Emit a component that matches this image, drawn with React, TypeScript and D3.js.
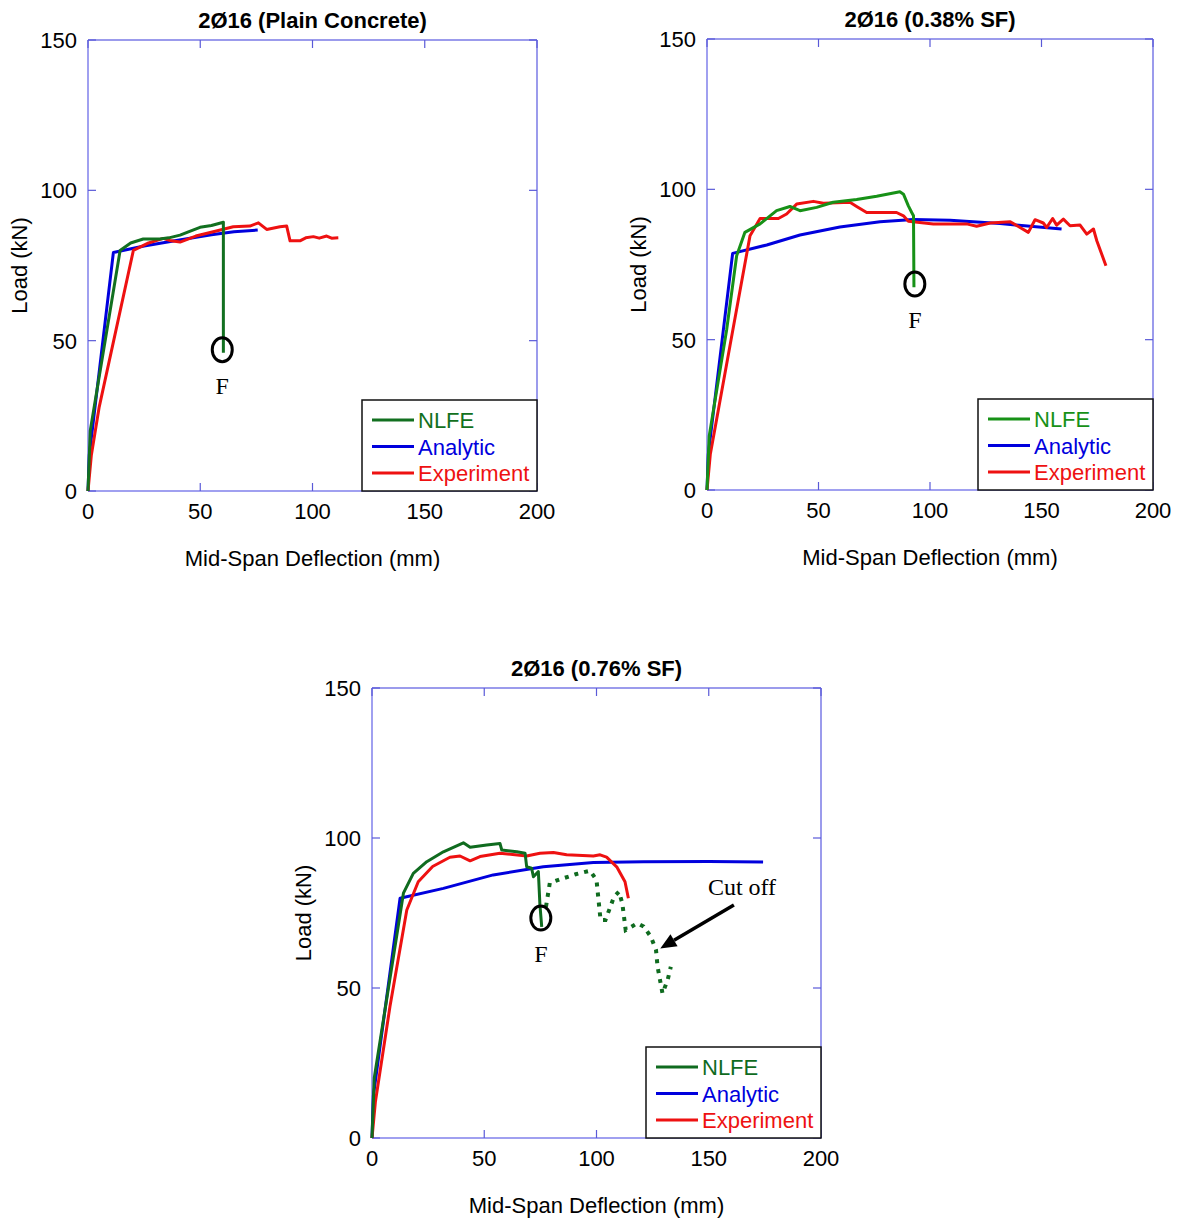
import React from "react";
import * as d3 from "d3";

type Pt = [number, number];

// axis ticks shared by all three panels
const xTicks = [0, 50, 100, 150, 200];
const yTicks = [0, 50, 100, 150];
const legendLabels = ["NLFE", "Analytic", "Experiment"];

// 2Ø16 (Plain Concrete)
const plainNLFE: Pt[] = [
  [0, 0], [1, 20], [14.3, 80], [19, 82.5], [24.6, 83.8], [32, 83.8], [36, 84.2],
  [41, 85.1], [45, 86.3], [49.9, 87.7], [55, 88.3], [60.3, 89.4], [60.3, 46]
];
const plainAnalytic: Pt[] = [
  [0, 0], [0.6, 12], [11.3, 79.3], [25, 81.5], [40, 83.4], [55, 85.2], [65, 86.2], [75.6, 86.8]
];
const plainExperiment: Pt[] = [
  [0, 0], [1.5, 12], [5, 28], [20.2, 80], [27, 82.5], [33.5, 84], [37, 83.2], [41, 82.8],
  [48, 84.8], [55.8, 86.2], [64.7, 87.9], [72.1, 88.1], [75.9, 89.2], [79.6, 87],
  [85.5, 87.9], [88.5, 88.1], [90, 83.2], [94.4, 83.2], [97, 84.2], [100.4, 84.6],
  [103, 84.1], [106.3, 84.8], [108.5, 84.1], [111.5, 84.2]
];

// 2Ø16 (0.38% SF)
const sf38NLFE: Pt[] = [
  [0, 0], [1, 18], [8.8, 53.2], [13.3, 77.9], [17, 85.7], [23.8, 88.5], [31.2, 92.9],
  [37.2, 94.3], [41.7, 92.9], [49.2, 94], [56.6, 95.7], [67.1, 96.6], [76.1, 97.7],
  [86.5, 99.2], [88.1, 98.4], [90.3, 94.5], [91.8, 92.3], [92.6, 91.2], [92.8, 67.4]
];
const sf38Analytic: Pt[] = [
  [0, 0], [0.6, 12], [11.5, 78.7], [26.8, 81.5], [41.7, 84.8], [59.6, 87.5], [77.6, 89.2],
  [92.5, 90], [109, 89.7], [131.4, 88.6], [159, 86.8]
];
const sf38Experiment: Pt[] = [
  [0, 0], [1.5, 12], [10.3, 48], [19.3, 84.6], [23.8, 90.3], [32, 90.3], [35.7, 91.8],
  [40.2, 95.1], [47.7, 96], [52.2, 95.4], [64.1, 95.7], [67.1, 94.3], [71.6, 92.3],
  [85, 92.3], [88.1, 91.2], [90.3, 89.4], [101.5, 88.5], [116.4, 88.5], [120.9, 87.7],
  [127, 88.8], [136, 89.2], [144.1, 85.7], [147.1, 89.9], [150.8, 88.8], [152.3, 87.3],
  [155, 90.3], [156.8, 88.1], [159.8, 90.1], [162.8, 87.9], [167.3, 88.1], [170.3, 85.1],
  [173.3, 86.8], [174.8, 82.9], [178.9, 74.6]
];

// 2Ø16 (0.76% SF)
const sf76NLFE: Pt[] = [
  [0, 0], [1, 20], [14, 81.6], [18.4, 88.2], [24.4, 92.1], [31.8, 95.4], [40.7, 98.4],
  [43.7, 96.9], [51.1, 97.7], [57, 98.2], [57.8, 96], [64.5, 95.4], [68.2, 94.9],
  [68.9, 90.4], [71.1, 89.9], [71.9, 87.1], [74.1, 88.8], [74.8, 77.7], [75.6, 70.4]
];
const sf76CutOff: Pt[] = [
  [77.5, 77.1], [79.2, 85], [83.7, 86.2], [91.1, 88], [97.1, 89.1], [100, 86],
  [101.8, 72.7], [104, 72.7], [107.8, 80.4], [110, 82.1], [111.5, 78.2], [113, 69.3],
  [118.2, 71.6], [121, 70.5], [124.2, 67.1], [126.5, 62.7], [127.2, 57.1], [129.4, 48.2],
  [131.7, 52.7], [133.1, 57.1]
];
const sf76Analytic: Pt[] = [
  [0, 0], [0.6, 14], [12.5, 79.9], [31.8, 83.2], [54, 87.7], [76.3, 90.4], [98.6, 91.8],
  [120.9, 92.1], [150, 92.2], [174.2, 92]
];
const sf76Experiment: Pt[] = [
  [0, 0], [1.5, 12], [8, 43.8], [15.5, 76], [20.6, 85.4], [27, 90.5], [34.7, 93.6],
  [39.2, 94], [43.7, 92.4], [48.1, 93.8], [57, 94.9], [68.9, 94], [74.8, 94.9],
  [80.8, 95.2], [86.7, 94.4], [98.6, 94], [101.6, 94.4], [104.5, 93.6], [109, 90.4],
  [112.7, 85.4], [114.2, 79.9]
];

const BLUE = "#0000dd";
const RED = "#ee1111";
const FONT = "Liberation Sans, Arial, sans-serif";
const SERIF = "Liberation Serif, Times New Roman, serif";

interface PanelProps {
  left: number;
  top: number;
  right: number;
  bottom: number;
  title: string;
  green: string;
  nlfe: Pt[];
  analytic: Pt[];
  experiment: Pt[];
  cutOff?: Pt[];
  failure: Pt; // location of the F marker (data coords)
}

function Panel(p: PanelProps) {
  const x = d3.scaleLinear().domain([0, 200]).range([p.left, p.right]);
  const y = d3.scaleLinear().domain([0, 150]).range([p.bottom, p.top]);
  const line = d3
    .line<Pt>()
    .x(d => x(d[0]))
    .y(d => y(d[1]));
  const colors = [p.green, BLUE, RED];
  const lgX = p.right - 175;
  const lgY = p.bottom - 91;
  const fx = x(p.failure[0]);
  const fy = y(p.failure[1]);
  const midX = (p.left + p.right) / 2;
  const midY = (p.top + p.bottom) / 2;
  return (
    <g fontFamily={FONT}>
      <text x={midX} y={p.top - 12} textAnchor="middle" fontSize={22} fontWeight="bold">
        {p.title}
      </text>
      {/* frame */}
      <line x1={p.left} x2={p.left} y1={p.top} y2={p.bottom} stroke="#a0a0f0" strokeWidth={2} />
      <line x1={p.left} x2={p.right} y1={p.bottom} y2={p.bottom} stroke="#a0a0f0" strokeWidth={2} />
      <line x1={p.left} x2={p.right} y1={p.top} y2={p.top} stroke="#7a7ae6" strokeWidth={1.5} />
      <line x1={p.right} x2={p.right} y1={p.top} y2={p.bottom} stroke="#7a7ae6" strokeWidth={1.5} />
      {xTicks.map(t => (
        <g key={"x" + t}>
          <line x1={x(t)} x2={x(t)} y1={p.bottom} y2={p.bottom - 8} stroke="#5a5ad8" strokeWidth={1.2} />
          <line x1={x(t)} x2={x(t)} y1={p.top} y2={p.top + 8} stroke="#5a5ad8" strokeWidth={1.2} />
          <text x={x(t)} y={p.bottom + 28} textAnchor="middle" fontSize={22}>
            {t}
          </text>
        </g>
      ))}
      {yTicks.map(t => (
        <g key={"y" + t}>
          <line x1={p.left} x2={p.left + 8} y1={y(t)} y2={y(t)} stroke="#5a5ad8" strokeWidth={1.2} />
          <line x1={p.right} x2={p.right} y1={y(t)} y2={y(t)} stroke="#5a5ad8" strokeWidth={1.2} />
          <line x1={p.right} x2={p.right - 8} y1={y(t)} y2={y(t)} stroke="#5a5ad8" strokeWidth={1.2} />
          <text x={p.left - 11} y={y(t) + 8} textAnchor="end" fontSize={22}>
            {t}
          </text>
        </g>
      ))}
      <text x={midX} y={p.bottom + 75} textAnchor="middle" fontSize={22}>
        Mid-Span Deflection (mm)
      </text>
      <text
        transform={`translate(${p.left - 61},${midY}) rotate(-90)`}
        textAnchor="middle"
        fontSize={22}
      >
        Load (kN)
      </text>
      {/* curves */}
      <path d={line(p.analytic) || ""} fill="none" stroke={BLUE} strokeWidth={3} strokeLinejoin="round" />
      <path d={line(p.experiment) || ""} fill="none" stroke={RED} strokeWidth={3} strokeLinejoin="round" />
      <path d={line(p.nlfe) || ""} fill="none" stroke={p.green} strokeWidth={3} strokeLinejoin="round" />
      {p.cutOff && (
        <path
          d={line(p.cutOff) || ""}
          fill="none"
          stroke={p.green}
          strokeWidth={4}
          strokeDasharray="4 6"
        />
      )}
      {/* failure marker */}
      <ellipse cx={fx} cy={fy} rx={10} ry={12} fill="none" stroke="#000" strokeWidth={3} />
      <text x={fx} y={fy + 44} textAnchor="middle" fontSize={24} fontFamily={SERIF}>
        F
      </text>
      {/* legend */}
      <rect x={lgX} y={lgY} width={175} height={91} fill="#fff" stroke="#111" strokeWidth={1.5} />
      {legendLabels.map((l, i) => (
        <g key={l}>
          <line
            x1={lgX + 10}
            x2={lgX + 52}
            y1={lgY + 20 + i * 26.5}
            y2={lgY + 20 + i * 26.5}
            stroke={colors[i]}
            strokeWidth={3}
          />
          <text x={lgX + 56} y={lgY + 28 + i * 26.5} fontSize={22} fill={colors[i]}>
            {l}
          </text>
        </g>
      ))}
    </g>
  );
}

export default function App() {
  const cut = d3.scaleLinear().domain([0, 200]).range([372, 821]);
  const cutY = d3.scaleLinear().domain([0, 150]).range([1138, 688]);
  const tipX = cut(128.4);
  const tipY = cutY(63.2);
  const tailX = cut(161.2);
  const tailY = cutY(77.7);
  const ang = Math.atan2(tipY - tailY, tipX - tailX);
  const hl = 16;
  const hw = 7;
  const bx = tipX - hl * Math.cos(ang);
  const by = tipY - hl * Math.sin(ang);
  const head = [
    [tipX, tipY],
    [bx + hw * Math.sin(ang), by - hw * Math.cos(ang)],
    [bx - hw * Math.sin(ang), by + hw * Math.cos(ang)]
  ]
    .map(d => d.join(","))
    .join(" ");
  return (
    <svg
      width={1180}
      height={1220}
      style={{ position: "absolute", left: 0, top: 0, background: "#fff" }}
    >
      <Panel
        left={88}
        top={40}
        right={537}
        bottom={491}
        title="2Ø16 (Plain Concrete)"
        green="#127020"
        nlfe={plainNLFE}
        analytic={plainAnalytic}
        experiment={plainExperiment}
        failure={[59.8, 47]}
      />
      <Panel
        left={707}
        top={39}
        right={1153}
        bottom={490}
        title="2Ø16 (0.38% SF)"
        green="#179117"
        nlfe={sf38NLFE}
        analytic={sf38Analytic}
        experiment={sf38Experiment}
        failure={[93.2, 68.5]}
      />
      <Panel
        left={372}
        top={688}
        right={821}
        bottom={1138}
        title="2Ø16 (0.76% SF)"
        green="#0f6b1f"
        nlfe={sf76NLFE}
        analytic={sf76Analytic}
        experiment={sf76Experiment}
        cutOff={sf76CutOff}
        failure={[75.2, 73.3]}
      />
      <line x1={tailX} y1={tailY} x2={bx} y2={by} stroke="#000" strokeWidth={3.5} />
      <polygon points={head} fill="#000" />
      <text x={742} y={895} textAnchor="middle" fontSize={24} fontFamily={SERIF}>
        Cut off
      </text>
    </svg>
  );
}
